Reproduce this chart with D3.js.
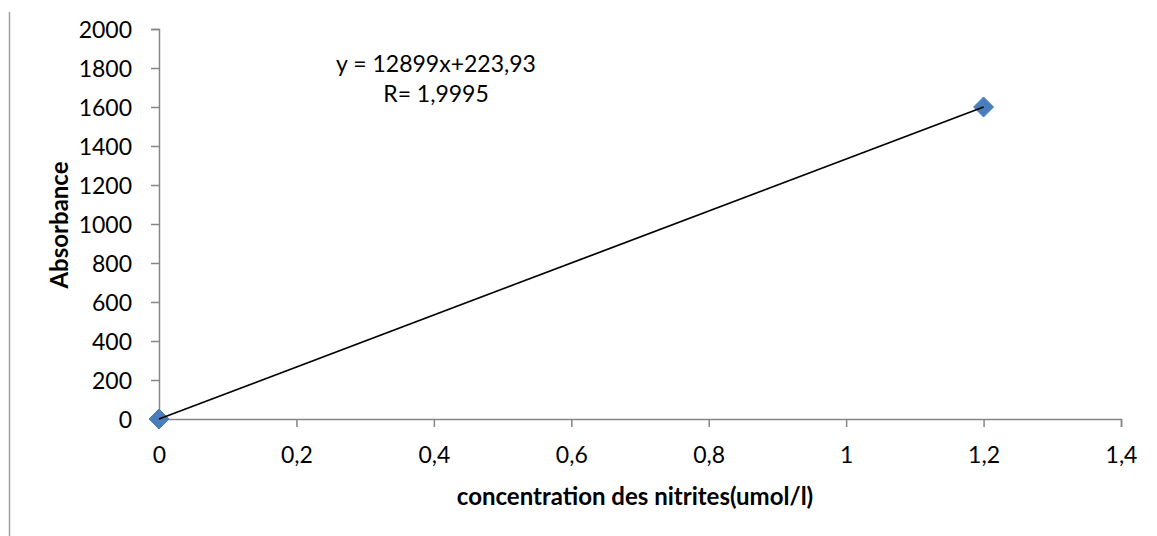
<!DOCTYPE html>
<html>
<head>
<meta charset="utf-8">
<script src="https://cdn.jsdelivr.net/npm/d3@7"></script>
<style>
  body { margin: 0; background: #fff; }
  text { font-family: Lato, "Open Sans", sans-serif; fill: #000; }
</style>
</head>
<body>
<div id="chart"></div>
<script>
// data
var concentration = [0, 1.2];
var absorbance = [0, 1600];
var xTicks = [0, 0.2, 0.4, 0.6, 0.8, 1, 1.2, 1.4];
var yTicks = [0, 200, 400, 600, 800, 1000, 1200, 1400, 1600, 1800, 2000];
var equation = ["y = 12899x+223,93", "R= 1,9995"];

var W = 1157, H = 536;
var AXIS = "#868686";

var svg = d3.select("#chart").append("svg")
  .attr("width", W)
  .attr("height", H);

// left frame line
svg.append("line")
  .attr("x1", 9.5).attr("x2", 9.5)
  .attr("y1", 12).attr("y2", H)
  .style("stroke", "#a0a0a0")
  .style("stroke-width", 1.5);

var x = d3.scaleLinear().domain([0, 1.4]).range([159, 1121]);
var y = d3.scaleLinear().domain([0, 2000]).range([419, 29]);

var fmt = function(d){ return String(d).replace(".", ","); };

// y axis
var yAxis = svg.append("g")
  .attr("transform", "translate(" + x(0) + ",0)")
  .call(d3.axisLeft(y).tickValues(yTicks).tickSize(8).tickPadding(19).tickFormat(fmt));

// x axis
var xAxis = svg.append("g")
  .attr("transform", "translate(0," + y(0) + ")")
  .call(d3.axisBottom(x).tickValues(xTicks).tickSize(8).tickPadding(19).tickFormat(fmt));

[yAxis, xAxis].forEach(function(a){
  a.select(".domain").style("stroke", AXIS).style("stroke-width", 1.5);
  a.selectAll(".tick line").style("stroke", AXIS).style("stroke-width", 1.5);
  a.selectAll(".tick text")
    .style("font-family", "Lato, sans-serif")
    .style("font-size", "23px")
    .attr("fill", "#000");
});
yAxis.selectAll(".tick text").attr("dy", "0.36em");
xAxis.selectAll(".tick text").attr("dy", "0.72em");

// axis titles
svg.append("text")
  .attr("x", 635)
  .attr("y", 505)
  .attr("text-anchor", "middle")
  .style("font-size", "24px")
  .style("font-weight", "bold")
  .text("concentration des nitrites(umol/l)");

svg.append("text")
  .attr("transform", "translate(68,225) rotate(-90)")
  .attr("text-anchor", "middle")
  .style("font-size", "24px")
  .style("font-weight", "bold")
  .text("Absorbance");

var pts = concentration.map(function(c, i){ return [c, absorbance[i]]; });

// markers (under the line, as in the original)
svg.selectAll(".pt")
  .data(pts)
  .enter().append("path")
  .attr("class", "pt")
  .attr("transform", function(d){ return "translate(" + x(d[0]) + "," + y(d[1]) + ")"; })
  .attr("d", "M0,-10L10,0L0,10L-10,0Z")
  .style("fill", "#4a7ebb")
  .style("stroke", "#4a7ebb")
  .style("stroke-width", 1);

// series line
svg.append("path")
  .datum(pts)
  .attr("d", d3.line().x(function(d){ return x(d[0]); }).y(function(d){ return y(d[1]); }))
  .style("fill", "none")
  .style("stroke", "#000")
  .style("stroke-width", 1.7);

// equation label
svg.selectAll(".eq")
  .data(equation)
  .enter().append("text")
  .attr("class", "eq")
  .attr("x", 436)
  .attr("y", function(d, i){ return 72 + i * 30; })
  .attr("text-anchor", "middle")
  .style("font-size", "23px")
  .text(function(d){ return d; });
</script>
</body>
</html>
